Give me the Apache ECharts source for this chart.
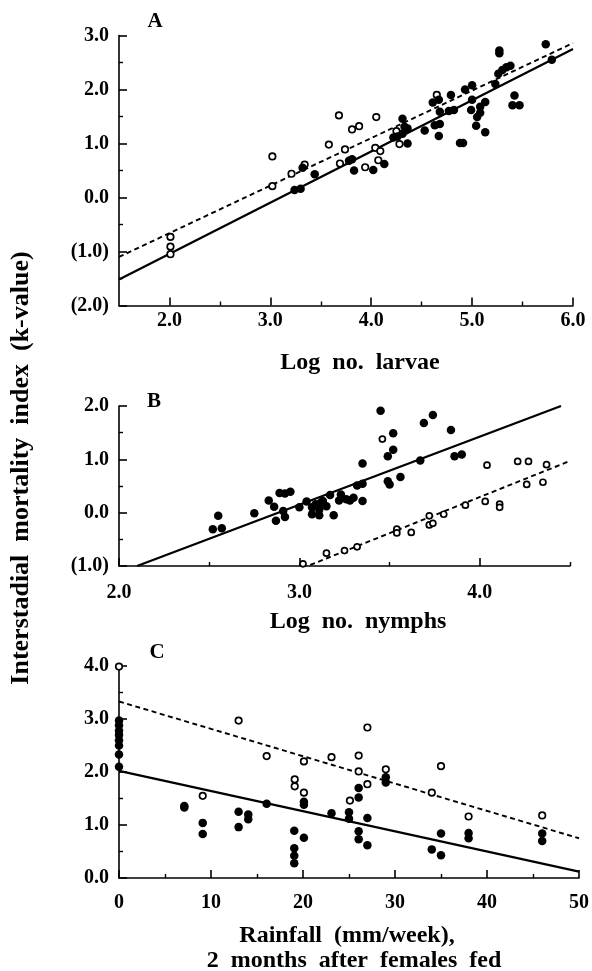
<!DOCTYPE html>
<html>
<head>
<meta charset="utf-8">
<script src="https://cdn.jsdelivr.net/npm/echarts@6/dist/echarts.min.js"></script>
<style>html,body{margin:0;padding:0;background:#fff}#c{width:592px;height:971px}</style>
</head>
<body>
<div id="c"></div>
<script>
// ---------- Panel A: Log no. larvae ----------
const aOpen = [[2.01,-0.73],[2.01,-0.91],[2.01,-1.05],[3.02,0.76],[3.02,0.21],[3.21,0.44],[3.34,0.61],[3.58,0.98],[3.68,1.52],[3.74,0.89],[3.69,0.63],[3.81,1.26],[3.88,1.32],[3.94,0.56],[4.05,1.49],[4.04,0.92],[4.09,0.86],[4.07,0.69],[4.25,1.23],[4.28,0.99],[4.65,1.90]];
const aFilled = [[3.24,0.14],[3.30,0.16],[3.32,0.55],[3.44,0.43],[3.78,0.68],[3.81,0.71],[3.83,0.50],[4.02,0.51],[4.13,0.62],[4.22,1.11],[4.26,1.13],[4.31,1.46],[4.33,1.31],[4.36,1.28],[4.31,1.18],[4.36,1.00],[4.53,1.24],[4.61,1.76],[4.67,1.81],[4.68,1.59],[4.63,1.34],[4.68,1.36],[4.67,1.14],[4.79,1.90],[4.77,1.60],[4.82,1.62],[4.88,1.01],[4.91,1.01],[4.93,2.00],[5.00,2.08],[5.00,1.81],[4.99,1.62],[5.05,1.49],[5.04,1.33],[5.08,1.57],[5.08,1.68],[5.13,1.77],[5.13,1.21],[5.23,2.10],[5.26,2.29],[5.27,2.72],[5.27,2.67],[5.30,2.36],[5.34,2.41],[5.38,2.44],[5.42,1.89],[5.40,1.71],[5.47,1.71],[5.73,2.84],[5.79,2.55]];
const aSolidLine = [[1.5,-1.52],[6.0,2.75]];
const aDashLine = [[1.5,-1.10],[6.0,2.86]];
const aXTicks = [2,3,4,5,6];
const aXMinor = [2.5,3.5,4.5,5.5];
const aYTicks = [-2,-1,0,1,2,3];
const aYMinor = [-1.5,-0.5,0.5,1.5,2.5];

// ---------- Panel B: Log no. nymphs ----------
const bFilled = [[2.52,-0.31],[2.55,-0.06],[2.57,-0.29],[2.75,-0.01],[2.83,0.23],[2.86,0.11],[2.87,-0.15],[2.89,0.37],[2.91,0.03],[2.92,-0.08],[2.92,0.36],[2.95,0.39],[3.00,0.10],[3.04,0.21],[3.07,-0.03],[3.07,0.10],[3.09,0.16],[3.11,0.06],[3.11,-0.05],[3.12,0.19],[3.13,0.22],[3.15,0.12],[3.17,0.33],[3.19,-0.05],[3.22,0.23],[3.23,0.34],[3.26,0.25],[3.28,0.23],[3.30,0.28],[3.32,0.51],[3.35,0.54],[3.35,0.22],[3.35,0.92],[3.45,1.91],[3.49,1.06],[3.52,1.18],[3.52,1.49],[3.49,0.59],[3.50,0.53],[3.56,0.67],[3.67,0.98],[3.69,1.68],[3.74,1.83],[3.84,1.55],[3.86,1.06],[3.90,1.09]];
const bOpen = [[3.46,1.38],[3.02,-0.96],[3.15,-0.76],[3.25,-0.71],[3.32,-0.64],[3.54,-0.31],[3.54,-0.38],[3.62,-0.37],[3.72,-0.06],[3.72,-0.23],[3.74,-0.20],[3.80,-0.03],[3.92,0.14],[4.03,0.21],[4.04,0.89],[4.11,0.16],[4.11,0.10],[4.21,0.96],[4.27,0.96],[4.26,0.53],[4.37,0.90],[4.35,0.57]];
const bSolidLine = [[2.10,-1.0],[4.45,2.0]];
const bDashLine = [[3.06,-0.98],[4.5,0.97]];
const bXTicks = [2,3,4];
const bXMinor = [2.5,3.5,4.5];
const bYTicks = [-1,0,1,2];
const bYMinor = [-0.5,0.5,1.5];

// ---------- Panel C: Rainfall ----------
const cOpen = [[0,3.99],[13.0,2.97],[9.1,1.55],[16.05,2.30],[19.1,1.86],[19.1,1.73],[20.1,2.20],[20.1,1.61],[23.1,2.28],[25.1,1.46],[26.05,2.31],[26.05,2.01],[27.0,2.84],[27.0,1.77],[29.0,2.05],[34.0,1.61],[35.0,2.11],[38.0,1.16],[46.0,1.18]];
const cFilled = [[0,2.97],[0,2.88],[0,2.78],[0,2.70],[0,2.60],[0,2.50],[0,2.33],[0,2.10],[7.1,1.36],[7.1,1.33],[9.1,1.04],[9.1,0.83],[13.0,1.25],[13.0,0.96],[14.05,1.20],[14.05,1.11],[16.05,1.40],[19.05,0.89],[19.05,0.56],[19.05,0.42],[19.05,0.28],[20.1,1.44],[20.1,1.38],[20.1,0.76],[23.1,1.22],[25.0,1.24],[25.0,1.12],[26.05,1.70],[26.05,1.52],[26.05,0.88],[26.05,0.73],[27.0,1.13],[27.0,0.62],[29.0,1.90],[29.0,1.80],[34.0,0.54],[35.0,0.84],[35.0,0.43],[38.0,0.85],[38.0,0.75],[46.0,0.84],[46.0,0.70]];
const cSolidLine = [[0,2.02],[50,0.12]];
const cDashLine = [[0,3.33],[50,0.75]];
const cXTicks = [0,10,20,30,40,50];
const cXMinor = [5,15,25,35,45];
const cYTicks = [0,1,2,3,4];
const cYMinor = [0.5,1.5,2.5,3.5];

// ---------- Texts ----------
const yTitle = 'Interstadial  mortality  index  (k-value)';
const aXTitle = 'Log  no.  larvae';
const bXTitle = 'Log  no.  nymphs';
const cXTitle1 = 'Rainfall  (mm/week),';
const cXTitle2 = '2  months  after  females  fed';
const panelLetters = ['A','B','C'];

const FONT = '"Liberation Serif", "Times New Roman", serif';
const BLACK = '#000';

function kFmt(v){ return v < 0 ? '(' + Math.abs(v).toFixed(1) + ')' : v.toFixed(1); }
function intFmt(v){ return String(Math.round(v)); }

function axisPair(dim, gi, min, max, majors, minors, fmt, margin){
  const pos = dim === 'x' ? 'bottom' : 'left';
  const main = {
    gridIndex: gi, type: 'value', min: min, max: max, position: pos,
    axisLine: {show: true, onZero: false, lineStyle: {color: BLACK, width: 1.6}},
    axisTick: {show: true, inside: true, length: 8, customValues: majors, lineStyle: {color: BLACK, width: 1.6}},
    axisLabel: {show: true, customValues: majors, formatter: fmt, margin: margin, color: BLACK,
      fontFamily: FONT, fontWeight: 'bold', fontSize: 20},
    splitLine: {show: false}
  };
  const minor = {
    gridIndex: gi, type: 'value', min: min, max: max, position: pos,
    axisLine: {show: false, onZero: false},
    axisTick: {show: true, inside: true, length: 4, customValues: minors, lineStyle: {color: BLACK, width: 1.4}},
    axisLabel: {show: false},
    splitLine: {show: false}
  };
  return [main, minor];
}

const grids = [
  {left: 119, top: 35.5, width: 454, height: 270, outerBoundsMode: 'none'},
  {left: 119, top: 406, width: 451, height: 160, outerBoundsMode: 'none'},
  {left: 119, top: 666, width: 460, height: 212, outerBoundsMode: 'none'}
];

const xAxes = [].concat(
  axisPair('x', 0, 1.5, 6, aXTicks, aXMinor, kFmt, 5),
  axisPair('x', 1, 2, 4.5, bXTicks, bXMinor, kFmt, 17),
  axisPair('x', 2, 0, 50, cXTicks, cXMinor, intFmt, 15)
);
const yAxes = [].concat(
  axisPair('y', 0, -2, 3, aYTicks, aYMinor, kFmt, 10),
  axisPair('y', 1, -1, 2, bYTicks, bYMinor, kFmt, 10),
  axisPair('y', 2, 0, 4, cYTicks, cYMinor, kFmt, 10)
);

function lineS(idx, data, dashed){
  return {type: 'line', xAxisIndex: idx, yAxisIndex: idx, data: data, symbol: 'none', showSymbol: false,
    silent: true, z: 2, clip: false,
    lineStyle: {color: BLACK, width: dashed ? 1.9 : 2.3, type: dashed ? [5, 3.5] : 'solid'}};
}
function openS(idx, data, size){
  return {type: 'scatter', xAxisIndex: idx, yAxisIndex: idx, data: data, symbol: 'circle', symbolSize: size,
    clip: false, z: 3, itemStyle: {color: '#fff', borderColor: BLACK, borderWidth: 1.7, opacity: 1}};
}
function fillS(idx, data, size){
  return {type: 'scatter', xAxisIndex: idx, yAxisIndex: idx, data: data, symbol: 'circle', symbolSize: size,
    clip: false, z: 4, itemStyle: {color: BLACK, opacity: 1}};
}

const series = [
  lineS(0, aSolidLine, false), lineS(0, aDashLine, true),
  openS(0, aOpen, 6.5), fillS(0, aFilled, 8.5),
  lineS(2, bSolidLine, false), lineS(2, bDashLine, true),
  fillS(2, bFilled, 8.5), openS(2, bOpen, 6),
  lineS(4, cSolidLine, false), lineS(4, cDashLine, true),
  fillS(4, cFilled, 8.5), openS(4, cOpen, 6.5)
];

function txt(text, x, y, size, rot){
  return {type: 'text', x: x, y: y, rotation: rot || 0, silent: true,
    style: {text: text, fill: BLACK, font: 'bold ' + size + 'px ' + FONT, align: 'center', verticalAlign: 'middle'}};
}

const graphics = [
  txt(yTitle, 21, 468, 26, Math.PI / 2),
  txt(panelLetters[0], 155, 22, 21),
  txt(panelLetters[1], 154, 402, 21),
  txt(panelLetters[2], 157, 653, 21),
  txt(aXTitle, 360, 363, 24),
  txt(bXTitle, 358, 622, 24),
  txt(cXTitle1, 347, 936, 24),
  txt(cXTitle2, 354, 961, 24)
];

const chart = echarts.init(document.getElementById('c'), null, {renderer: 'canvas'});
chart.setOption({
  animation: false,
  backgroundColor: '#fff',
  grid: grids,
  xAxis: xAxes,
  yAxis: yAxes,
  series: series,
  graphic: graphics
});
</script>
</body>
</html>
